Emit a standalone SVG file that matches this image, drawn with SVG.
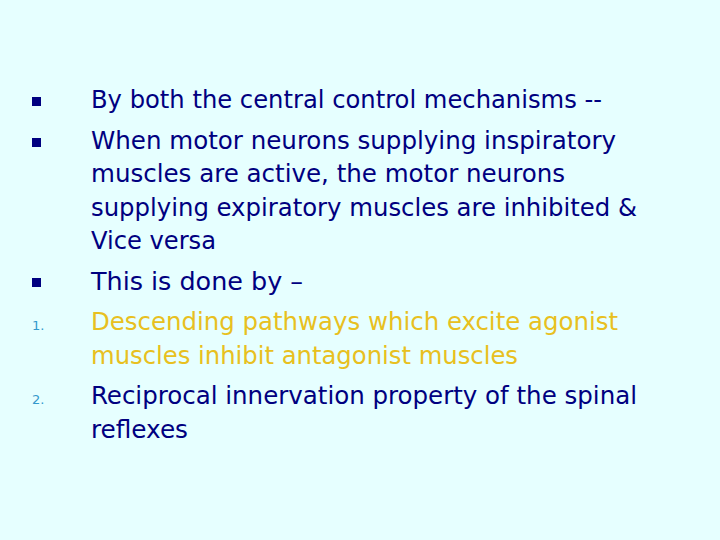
<svg xmlns="http://www.w3.org/2000/svg" width="720" height="540" viewBox="0 0 720 540">
<style>
.t{font-family:"DejaVu Sans Condensed","DejaVu Sans",sans-serif;font-size:24px;fill:#000080}
.y{fill:#e8c020}
.n{font-family:"DejaVu Sans",sans-serif;font-size:13px;fill:#3399cc}
.b{fill:#000080}
</style>
<rect width="720" height="540" fill="#e6ffff"/>
<g id="bullets">
<rect class="b" x="32" y="97" width="9" height="9"/>
<rect class="b" x="32" y="138" width="9" height="9"/>
<rect class="b" x="32" y="278" width="9" height="9"/>
<text class="n" x="32" y="330">1.</text>
<text class="n" x="32" y="404">2.</text>
</g>
<g id="text">
<text class="t" x="91" y="108" textLength="511" lengthAdjust="spacingAndGlyphs">By both the central control mechanisms --</text>
<text class="t" x="91" y="149" textLength="525" lengthAdjust="spacingAndGlyphs">When motor neurons supplying inspiratory</text>
<text class="t" x="91" y="182" textLength="474" lengthAdjust="spacingAndGlyphs">muscles are active, the motor neurons</text>
<text class="t" x="91" y="216" textLength="546" lengthAdjust="spacingAndGlyphs">supplying expiratory muscles are inhibited &amp;</text>
<text class="t" x="91" y="249" textLength="125" lengthAdjust="spacingAndGlyphs">Vice versa</text>
<text class="t" x="91" y="290" textLength="212" lengthAdjust="spacingAndGlyphs">This is done by –</text>
<text class="t y" x="91" y="330" textLength="527" lengthAdjust="spacingAndGlyphs">Descending pathways which excite agonist</text>
<text class="t y" x="91" y="364" textLength="427" lengthAdjust="spacingAndGlyphs">muscles inhibit antagonist muscles</text>
<text class="t" x="91" y="404" textLength="546" lengthAdjust="spacingAndGlyphs">Reciprocal innervation property of the spinal</text>
<text class="t" x="91" y="438" textLength="97" lengthAdjust="spacingAndGlyphs">reflexes</text>
</g>
</svg>
